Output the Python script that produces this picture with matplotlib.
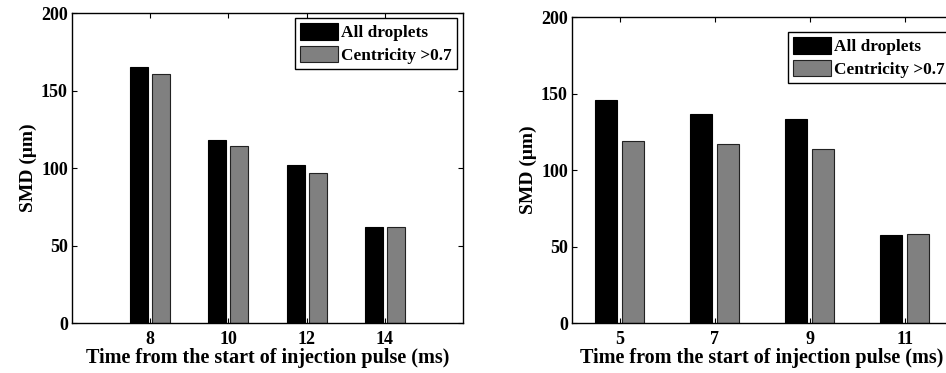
import numpy as np
import matplotlib.pyplot as plt

plt.rcParams['font.family'] = ['Liberation Serif', 'DejaVu Serif']
plt.rcParams['font.weight'] = 'bold'

# left panel data
times_a = [8, 10, 12, 14]
all_a = [165, 118, 102, 62]
cent_a = [160.5, 114, 97, 62]

# right panel data
times_b = [5, 7, 9, 11]
all_b = [146, 137, 133.5, 57.5]
cent_b = [119, 117, 114, 58]

labels = ['All droplets', 'Centricity >0.7']
xlabel = 'Time from the start of injection pulse (ms)'
ylabel = 'SMD (\u03bcm)'

fig = plt.figure(figsize=(9.46, 3.73), dpi=100)
ax1 = fig.add_axes([0.0761, 0.134, 0.4133, 0.831])
ax2 = fig.add_axes([0.6047, 0.134, 0.4017, 0.820])


def draw(ax, t, a, c, xlim, anchor):
    t = np.array(t)
    w = 0.46
    ax.bar(t - 0.28, a, w, color='black', edgecolor='black', linewidth=0.8, label=labels[0])
    ax.bar(t + 0.28, c, w, color='#808080', edgecolor='#222222', linewidth=0.8, label=labels[1])
    ax.set_xlim(*xlim)
    ax.set_ylim(0, 200)
    ax.set_xticks(t)
    ax.set_yticks([0, 50, 100, 150, 200])
    ax.tick_params(direction='in', top=True, right=True, labelsize=13, length=3.5, pad=3)
    ax.tick_params(axis='x', pad=6)
    for lb in ax.get_xticklabels() + ax.get_yticklabels():
        lb.set_fontweight('bold')
    ax.set_xlabel(xlabel, fontsize=14.5, fontweight='bold', labelpad=0)
    ax.set_ylabel(ylabel, fontsize=14, fontweight='bold', labelpad=3)
    for s in ax.spines.values():
        s.set_linewidth(1.0)
    leg = ax.legend(loc='upper right', bbox_to_anchor=anchor, borderaxespad=0,
                    fancybox=False, edgecolor='black', framealpha=1,
                    prop={'weight': 'bold', 'size': 12.4}, handlelength=2.2,
                    handleheight=1.1, handletextpad=0.2, labelspacing=0.25,
                    borderpad=0.3)
    leg.get_frame().set_linewidth(1.0)


draw(ax1, times_a, all_a, cent_a, (6, 16), (0.985, 0.984))
draw(ax2, times_b, all_b, cent_b, (4, 12), (0.995, 0.951))

fig.savefig('out.png', dpi=100)
